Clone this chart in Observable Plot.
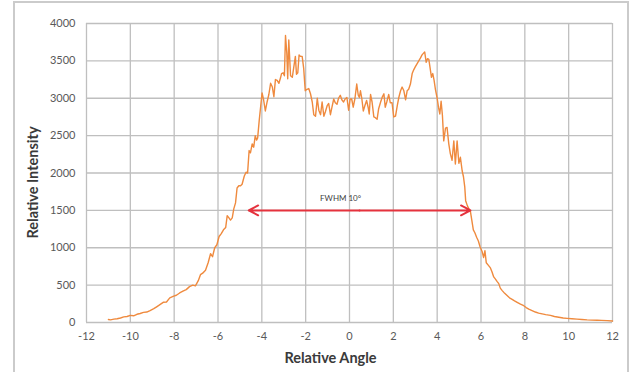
<!DOCTYPE html>
<html>
<head>
<meta charset="utf-8">
<script src="https://cdn.jsdelivr.net/npm/d3@7"></script>
<script src="https://cdn.jsdelivr.net/npm/@observablehq/plot@0.6"></script>
<style>
  html, body { margin: 0; padding: 0; background: #fff; }
  #chart { position: relative; width: 635px; height: 372px; overflow: hidden; }
  #box { position: absolute; left: 13px; top: 1px; width: 616px; height: 400px;
         border: 2px solid #cbcbcb; box-sizing: border-box; }
  #chart svg { position: absolute; left: 0; top: 0; }
</style>
</head>
<body>
<div id="chart"><div id="box"></div></div>
<script>
// Angular intensity profile (relative angle in degrees vs relative intensity)
const angle = [
  -11.0, -10.9, -10.75, -10.6, -10.45, -10.3, -10.15, -10.0, -9.85, -9.7,
  -9.55, -9.4, -9.25, -9.1, -8.93, -8.8, -8.65, -8.5, -8.35, -8.2,
  -8.05, -7.9, -7.75, -7.6, -7.45, -7.3, -7.15, -7.03, -6.9, -6.8,
  -6.7, -6.57, -6.45, -6.34, -6.25, -6.15, -6.05, -5.95, -5.85, -5.75,
  -5.65, -5.58, -5.5, -5.43, -5.35, -5.28, -5.2, -5.13, -5.05, -4.97,
  -4.9, -4.8, -4.72, -4.65, -4.58, -4.52, -4.44, -4.37, -4.3, -4.24,
  -4.19, -4.12, -4.05, -3.99, -3.92, -3.84, -3.76, -3.68, -3.6, -3.52,
  -3.45, -3.38, -3.3, -3.22, -3.15, -3.1, -3.03, -2.97, -2.92, -2.86,
  -2.82, -2.77, -2.69, -2.61, -2.55, -2.47, -2.42, -2.36, -2.3, -2.24,
  -2.16, -2.09, -2.02, -1.94, -1.86, -1.78, -1.7, -1.63, -1.55, -1.47,
  -1.4, -1.32, -1.25, -1.17, -1.1, -1.02, -0.95, -0.87, -0.8, -0.72,
  -0.65, -0.57, -0.5, -0.42, -0.35, -0.27, -0.2, -0.12, -0.04, 0.03,
  0.1, 0.17, 0.25, 0.33, 0.4, 0.45, 0.5, 0.56, 0.63, 0.7,
  0.78, 0.85, 0.9, 0.96, 1.03, 1.11, 1.18, 1.26, 1.33, 1.42,
  1.5, 1.57, 1.63, 1.7, 1.79, 1.86, 1.94, 2.02, 2.1, 2.18,
  2.25, 2.33, 2.4, 2.48, 2.56, 2.63, 2.7, 2.78, 2.86, 2.93,
  3.0, 3.08, 3.16, 3.24, 3.31, 3.37, 3.43, 3.5, 3.56, 3.62,
  3.68, 3.74, 3.8, 3.86, 3.92, 4.0, 4.06, 4.12, 4.18, 4.24,
  4.3, 4.38, 4.45, 4.53, 4.6, 4.68, 4.76, 4.83, 4.91, 4.99,
  5.06, 5.14, 5.2, 5.26, 5.3, 5.38, 5.45, 5.52, 5.58, 5.65,
  5.72, 5.8, 5.88, 5.96, 6.05, 6.12, 6.18, 6.24, 6.32, 6.43,
  6.5, 6.58, 6.66, 6.73, 6.81, 6.88, 6.96, 7.08, 7.19, 7.3,
  7.42, 7.53, 7.65, 7.8, 7.95, 8.06, 8.18, 8.33, 8.48, 8.63,
  8.79, 8.95, 9.17, 9.35, 9.55, 9.75, 9.93, 10.15, 10.38, 10.6,
  10.84, 11.05, 11.3, 11.5, 11.76, 12.0
];
const intensity = [
  40, 35, 45, 50, 60, 75, 80, 95, 90, 110,
  120, 135, 140, 160, 185, 210, 240, 270, 275, 330,
  350, 365, 395, 420, 440, 480, 500, 490, 560, 640,
  660, 700, 800, 920, 880, 1000, 1040, 1150, 1190, 1240,
  1270, 1430, 1400, 1370, 1400, 1520, 1600, 1800, 1830, 1830,
  1850, 1960, 2010, 2000, 2300, 2270, 2390, 2345, 2500, 2440,
  2470, 2700, 2900, 3070, 2980, 2830, 2950, 3050, 3200, 3150,
  3020, 3250, 3240, 3200, 3270, 3330, 3340, 3300, 3840, 3600,
  3260, 3780, 3300, 3280, 3400, 3560, 3320, 3340, 3580, 3560,
  3560, 3400, 3100, 3120, 3130, 3060, 2950, 2780, 2760, 3000,
  2840, 2780, 2950, 2760, 2820, 2900, 2930, 2780, 2880, 2990,
  2940, 2920, 3000, 3040, 2980, 2950, 2990, 3010, 2840, 2990,
  2990, 2880, 3000, 3190, 3040, 3010, 3100, 3000, 2830, 2900,
  2970, 2880, 2790, 3050, 2950, 2750, 2740, 2720, 2860, 2950,
  3020, 3060, 2880, 2950, 3050, 2940, 2940, 2750, 2760, 2900,
  3010, 3100, 3150, 3100, 2980, 3100, 3120, 3190, 3330, 3380,
  3420, 3460, 3500, 3540, 3580, 3600, 3620, 3480, 3530, 3520,
  3400, 3280, 3330, 3240, 3120, 3000, 2880, 2790, 2960, 2770,
  2430, 2600, 2610, 2390, 2260, 2170, 2430, 2120, 2430, 2130,
  2210, 2030, 1950, 1810, 1630, 1560, 1520, 1480, 1370, 1240,
  1200, 1140, 1090, 1010, 950, 870, 960, 800, 770, 730,
  680, 610, 580, 550, 520, 460, 430, 390, 360, 330,
  310, 290, 270, 245, 225, 200, 180, 160, 140, 125,
  115, 105, 95, 80, 70, 60, 55, 50, 45, 40,
  35, 32, 30, 28, 25, 20
];

// Axis ticks
const xTicks = [-12, -10, -8, -6, -4, -2, 0, 2, 4, 6, 8, 10, 12];
const yTicks = [0, 500, 1000, 1500, 2000, 2500, 3000, 3500, 4000];

// Full width at half maximum annotation
const fwhmLeft = -4.6;
const fwhmRight = 5.52;
const halfMax = 1500;
const fwhmLabel = "FWHM 10°";

const xTitle = "Relative Angle";
const yTitle = "Relative Intensity";

const profile = angle.map((a, i) => ({angle: a, intensity: intensity[i]}));
const fwhmMid = (fwhmLeft + fwhmRight) / 2;
const fwhmArrows = [
  {x1: fwhmMid, x2: fwhmLeft, y: halfMax},
  {x1: fwhmMid, x2: fwhmRight, y: halfMax}
];

const gridColor = "#bfbfbf";
const chartFont = "Lato, 'Open Sans', sans-serif";

const chart = Plot.plot({
  width: 635,
  height: 372,
  marginLeft: 86,
  marginRight: 23,
  marginTop: 23,
  marginBottom: 50,
  style: {fontFamily: chartFont, fontSize: "11px", color: "#595959", background: "transparent", overflow: "visible"},
  x: {domain: [-12, 12]},
  y: {domain: [0, 4000]},
  marks: [
    Plot.gridX(xTicks, {stroke: gridColor, strokeOpacity: 1, strokeWidth: 1.3}),
    Plot.gridY(yTicks, {stroke: gridColor, strokeOpacity: 1, strokeWidth: 1.3}),
    Plot.axisX(xTicks, {tickSize: 0, tickPadding: 10, tickFormat: d => String(d), label: null, fill: "#595959"}),
    Plot.axisY(yTicks, {tickSize: 0, tickPadding: 11, tickFormat: d => String(d), label: null, fill: "#595959"}),
    Plot.line(profile, {x: "angle", y: "intensity", stroke: "#ef8a3e", strokeWidth: 1.4, strokeLinejoin: "round"}),
    Plot.arrow(fwhmArrows, {x1: "x1", x2: "x2", y1: "y", y2: "y", stroke: "#e5323d", strokeWidth: 2, headLength: 8, headAngle: 55, insetStart: 0, insetEnd: 0}),
    Plot.text([fwhmLabel], {x: fwhmMid, y: halfMax, dx: -19, dy: -12, fontSize: 8, fill: "#404040"}),
    Plot.text([xTitle], {frameAnchor: "bottom", textAnchor: "middle", lineAnchor: "middle", dx: -19, dy: 36, fontSize: 14.5, fontWeight: "bold", fill: "#3a3a3a"}),
    Plot.text([yTitle], {frameAnchor: "left", textAnchor: "middle", lineAnchor: "middle", rotate: -90, dx: -53.5, dy: 9.5, fontSize: 14.5, fontWeight: "bold", fill: "#3a3a3a"})
  ]
});

document.getElementById("chart").appendChild(chart);
</script>
</body>
</html>
